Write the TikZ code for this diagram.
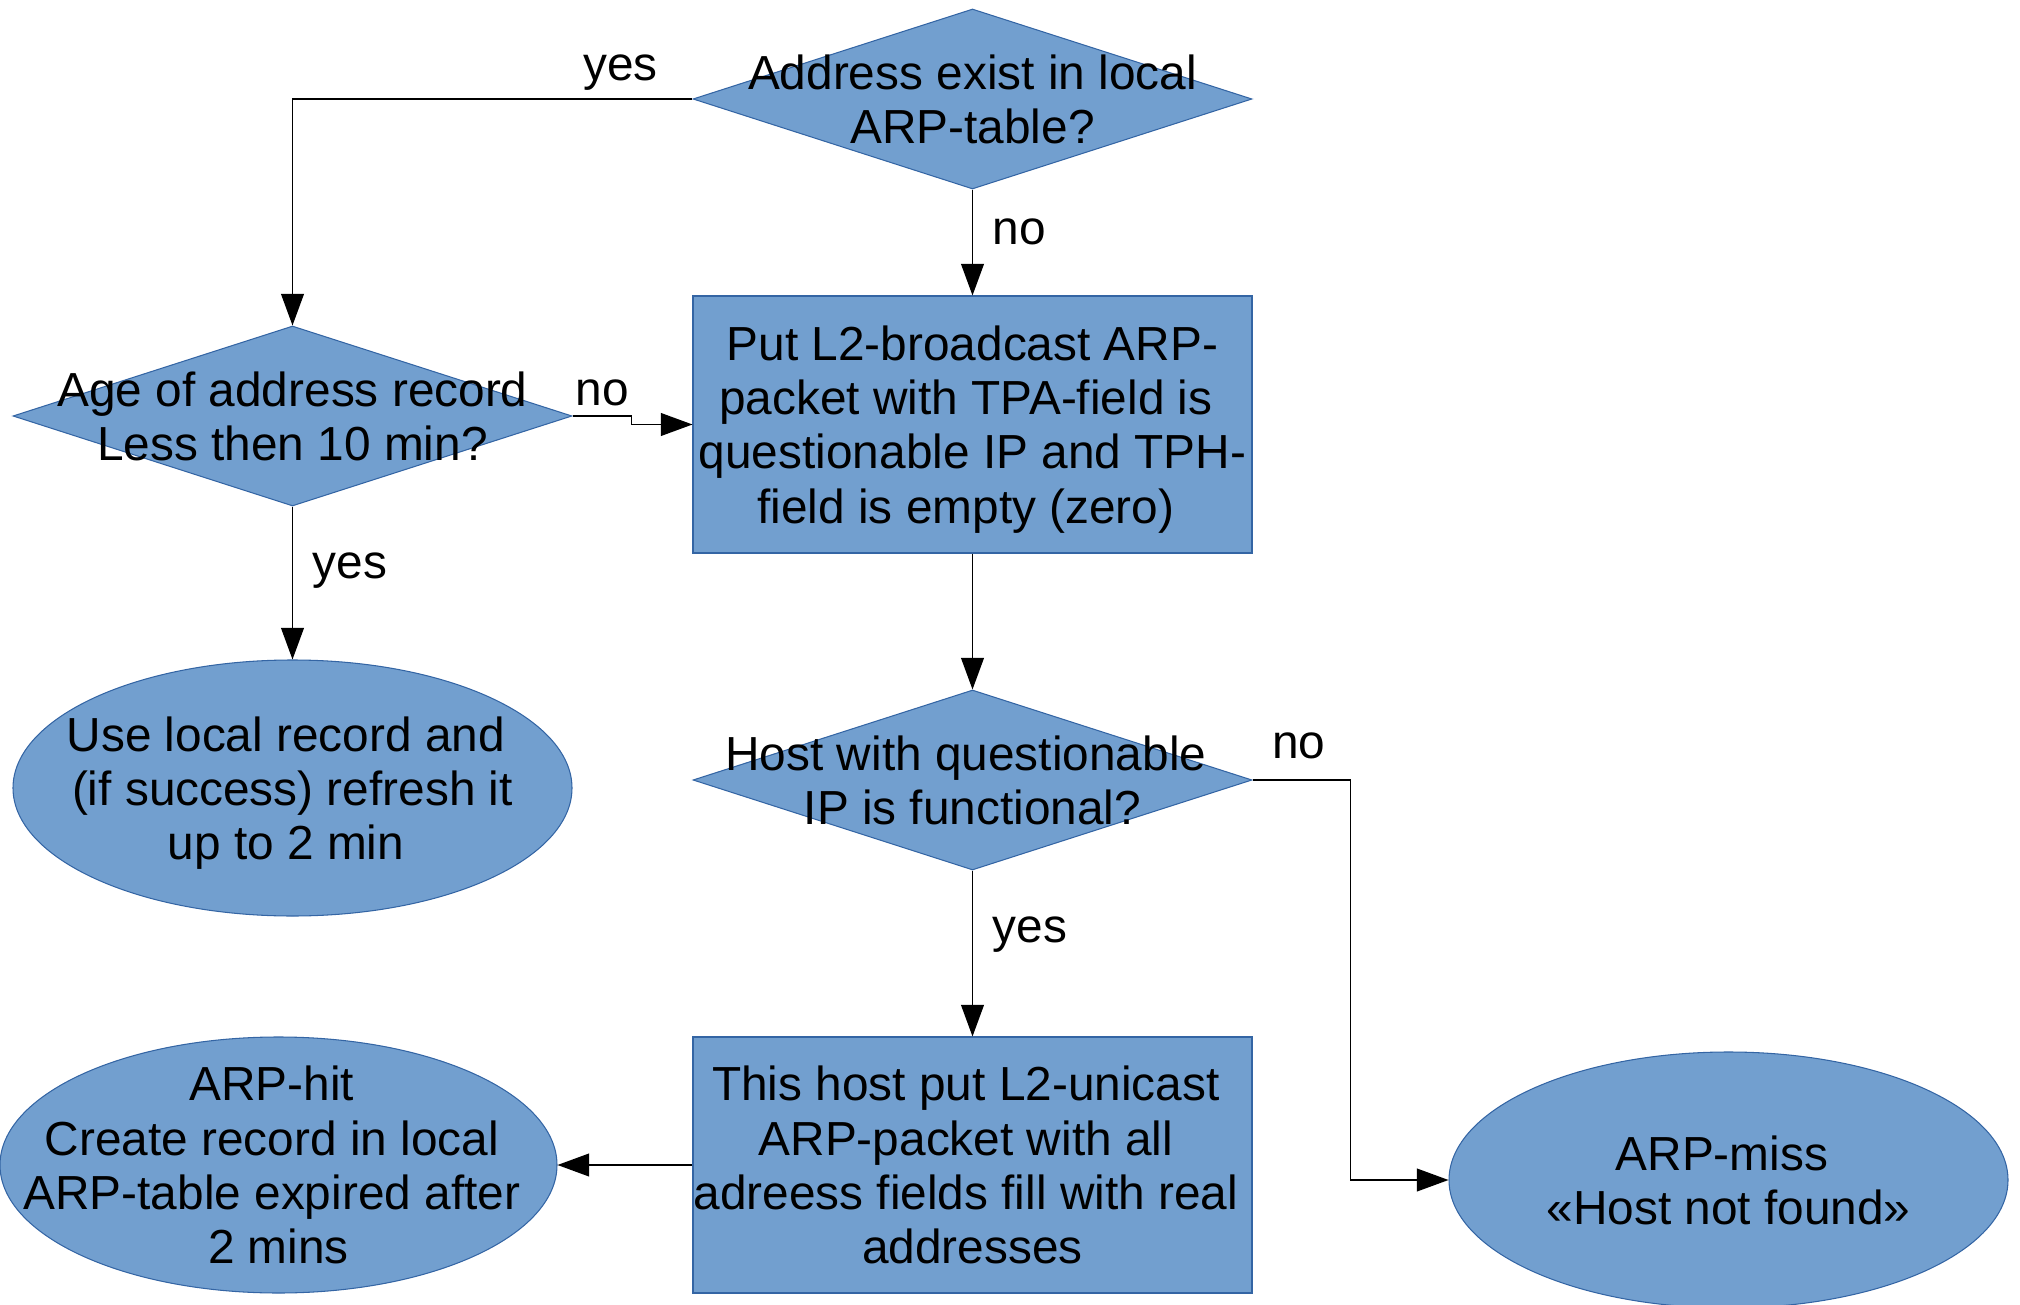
\documentclass[tikz,border=0pt]{standalone}
\usepackage{fontspec}
\setmainfont{Liberation Sans}
\usetikzlibrary{shapes.geometric, arrows.meta, positioning}
\definecolor{boxblue}{HTML}{729FCF}
\definecolor{edgeblue}{HTML}{3465A4}
% room of a space left at the end of a wrapped line
\newcommand{\tailgap}{\kern0.278em}

\begin{document}
\begin{tikzpicture}[
    font=\fontsize{13.6}{15.4}\selectfont,
    decision/.style={diamond, draw=edgeblue, fill=boxblue, line width=0.3pt, minimum width=5.59cm, minimum height=1.80cm, inner sep=0pt},
    process/.style={rectangle, draw=edgeblue, fill=boxblue, line width=0.3pt, minimum width=5.59cm, minimum height=2.57cm, align=center, inner sep=0pt},
    terminal/.style={ellipse, draw=edgeblue, fill=boxblue, line width=0.3pt, minimum width=5.59cm, minimum height=2.56cm, inner sep=0pt},
    inside/.style={align=center},
    arrow/.style={line width=0.4pt, -{Triangle[length=9pt, width=6.5pt]}},
    tag/.style={above, inner sep=4pt},
    side/.style={right, inner sep=5.5pt}
]
\useasboundingbox (0,0) rectangle (20.2,-13.05);

\node (exist) [decision, label={[inside]center:Address exist in local\\ARP-table?}] at (9.725,-0.99) {};
\node (bcast) [process, text depth=0pt] at (9.725,-4.245) {Put L2-broadcast ARP-\\packet with TPA-field is\tailgap\\questionable IP and TPH-\\field is empty (zero)\tailgap};
\node (age) [decision, label={[inside]center:Age of address record\\Less then 10 min?}] at (2.925,-4.16) {};
\node (reuse) [terminal, label={[inside, text depth=0pt]center:Use local record and\tailgap\\(if success) refresh it\\up to 2 min\tailgap}] at (2.925,-7.88) {};
\node (func) [decision, label={[inside]center:Host with questionable\tailgap\\IP is functional?}] at (9.725,-7.80) {};
\node (reply) [process, minimum height=2.56cm] at (9.725,-11.65) {This host put L2-unicast\tailgap\\ARP-packet with all\tailgap\\adreess fields fill with real\tailgap\\addresses};
\node (hit) [terminal, minimum width=5.57cm, label={[inside]center:ARP-hit\tailgap\\Create record in local\tailgap\\ARP-table expired after\tailgap\\2 mins}] at (2.785,-11.65) {};
\node (miss) [terminal, label={[inside]center:ARP-miss\tailgap\\«Host not found»}] at (17.285,-11.80) {};

\draw [arrow] (exist.west) -| node[pos=0.09, tag, yshift=-0.065cm] {yes} (age.north);
\draw [arrow] (exist.south) -- node[pos=0.395, side] {no} (bcast.north);
\draw [arrow] (age.east) -- ++(0.59,0) node[midway, tag, yshift=-0.05cm] {no} |- (bcast.west);
\draw [arrow] (age.south) -- node[pos=0.42, side] {yes} (reuse.north);
\draw [arrow] (bcast.south) -- (func.north);
\draw [arrow] (func.south) -- node[pos=0.385, side] {yes} (reply.north);
\draw [arrow] (reply.west) -- (hit.east);
\draw [arrow] (func.east) -- ++(0.98,0) node[pos=0.47, tag, yshift=0.065cm] {no} |- (miss.west);

\end{tikzpicture}
\end{document}
